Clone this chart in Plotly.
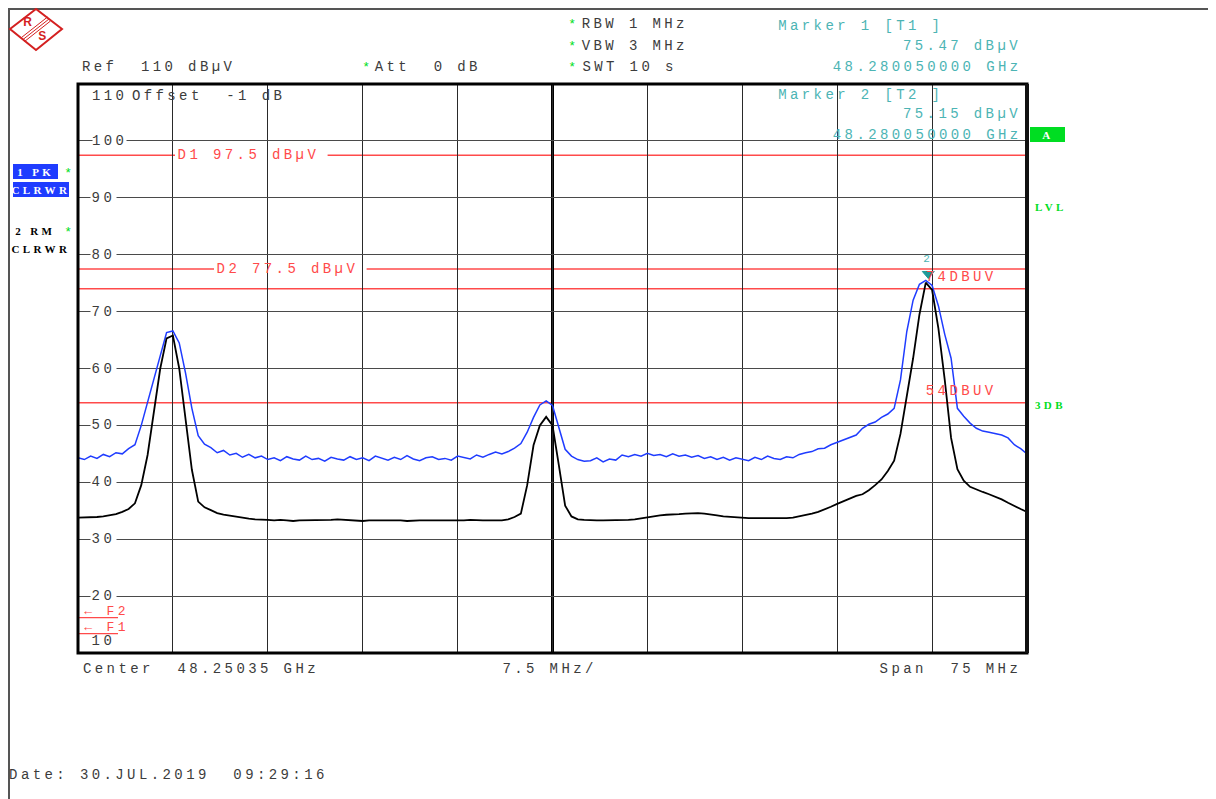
import re
import numpy as np
import plotly.graph_objects as go

# ---------------- data ----------------
CENTER_GHZ = 48.25035
SPAN_MHZ = 75.0
DIV_MHZ = 7.5
STEP_MHZ = 0.5
REF_DBUV = 110
BOTTOM_DBUV = 10

# trace 1 : PK / CLRWR (blue)
pk_dbuv = [
    44.3, 44.0, 44.6, 44.2, 44.9, 44.5, 45.2, 45.0, 45.9, 46.6,
    50.0, 54.0, 58.2, 62.5, 66.3, 66.6, 64.5, 59.2, 53.0, 48.2,
    46.7, 46.1, 45.2, 45.6, 44.8, 45.1, 44.4, 44.9, 44.3, 44.6, 44.0,
    44.3, 43.8, 44.5, 44.1, 43.9, 44.6, 44.0, 44.2, 43.7, 44.4, 44.1, 43.9,
    44.5, 44.0, 44.3, 43.8, 44.6, 44.2, 43.9, 44.4, 44.0, 44.7, 44.1, 43.8,
    44.3, 44.5, 44.0, 44.2, 43.9, 44.6, 44.3, 44.1, 44.8, 44.4, 44.9, 45.3,
    45.0, 45.4, 46.0, 46.8, 48.8, 51.4, 53.6, 54.3, 53.5, 49.5, 45.8, 44.6, 44.0, 43.7,
    43.8, 44.3, 43.6, 44.1, 43.9, 44.8, 44.5, 44.9, 44.6, 45.1, 44.7, 44.9, 44.5, 45.0, 44.6,
    44.8, 44.4, 44.7, 44.2, 44.5, 44.0, 44.4, 43.9, 44.3, 44.1, 43.8, 44.4, 44.0, 44.6, 44.2,
    44.0, 44.5, 44.3, 44.9, 45.2,
    45.4, 45.9, 46.0, 46.6, 47.0, 47.4, 47.9,
    48.3, 49.5, 50.2, 50.6, 51.4, 52.0, 53.0,
    58.0, 66.5, 72.0, 74.8, 75.5, 74.6, 71.0, 66.0, 61.8, 53.0, 51.6,
    50.4, 49.5, 49.0, 48.8, 48.6, 48.3, 47.8, 46.6, 45.9, 45.0,
]

# trace 2 : RM / CLRWR (black)
rm_dbuv = [
    33.8, 33.8, 33.9, 33.9, 34.0, 34.2, 34.4, 34.8, 35.3, 36.3,
    39.5, 44.8, 52.3, 60.0, 65.3, 65.8, 60.0, 51.0, 42.2, 36.6,
    35.6, 35.1, 34.6, 34.3, 34.1, 33.9, 33.7, 33.6, 33.5, 33.5, 33.4,
    33.3, 33.4, 33.3, 33.2, 33.3, 33.3, 33.4, 33.3, 33.3, 33.4, 33.5, 33.4,
    33.3, 33.3, 33.2, 33.3, 33.3, 33.3, 33.4, 33.3, 33.3, 33.2, 33.3, 33.3,
    33.3, 33.3, 33.2, 33.3, 33.3, 33.3, 33.3, 33.4, 33.3, 33.3, 33.3, 33.3, 33.3,
    33.5, 33.9,
    34.5, 39.5, 46.5, 50.0, 51.5, 50.0, 43.0, 35.9, 34.0, 33.5,
    33.4,
    33.3, 33.3, 33.3, 33.3, 33.3, 33.4, 33.4, 33.5, 33.7, 33.9, 34.1,
    34.2, 34.3, 34.3, 34.4, 34.5, 34.6, 34.6, 34.5, 34.4, 34.2, 34.0,
    33.9, 33.8, 33.7, 33.7, 33.7, 33.7, 33.7, 33.6, 33.6, 33.7, 33.8,
    34.0, 34.2, 34.5, 34.8, 35.2, 35.7, 36.2, 36.7, 37.2, 37.6, 37.9,
    38.6, 39.5, 40.5, 42.0, 43.8, 48.5, 55.0, 61.8, 69.5, 75.1, 73.8,
    67.0, 58.0, 47.8, 42.3, 40.3, 39.2, 38.7, 38.3, 37.9, 37.5, 37.0,
    36.4, 35.8, 35.3, 34.8,
]

ytick_vals = [100, 90, 80, 70, 60, 50, 40, 30, 20]
d_line_names = ["D1", "D2"]
d_line_vals = [97.5, 77.5]
lim_line_vals = [74, 54]
lim_line_labels = ["74DBUV", "54DBUV"]
f_line_names = ["F2", "F1"]
f_line_vals = [16.2, 13.4]
marker_ghz = 48.280050000
marker_dbuv = [75.47, 75.15]

assert len(pk_dbuv) == len(rm_dbuv) == 151

f_start = CENTER_GHZ - SPAN_MHZ / 2000.0
f_end = CENTER_GHZ + SPAN_MHZ / 2000.0
freq = f_start + np.arange(len(pk_dbuv)) * STEP_MHZ / 1000.0

# ---------------- layout helpers ----------------
W, H = 1216, 799          # browser window
BODY = 8                  # default page margin of the html body
PL, PR, PT, PB = 78, 1027, 84, 653   # plot frame in window pixels
MONO = "Liberation Mono"
SERIF = "Liberation Serif"
FS = 14
LS = 3.4                  # letter spacing (px) applied to all texts
GRAY = "#3c3c3c"
TEAL = "#4cb4b4"
RED = "#ff4a4a"
GREEN = "#00dd22"
BLUE = "#1f3cff"


def px(x):
    return (x - PL) / (PR - PL)


def py(y):
    return (PB - y) / (PB - PT)


def vis_len(t):
    return len(re.sub(r"<[^>]+>", "", t))


def center_x(t, x, anchor, size=FS):
    adv = 0.6 * size + LS
    tw = vis_len(t) * adv
    if anchor == "left":
        return x + tw / 2
    if anchor == "right":
        return x + LS - tw / 2
    return x + LS / 2


annotations = []
shapes = []


def txt(t, x, y, color=GRAY, size=FS, anchor="left", family=MONO, **kw):
    annotations.append(dict(
        text=t, x=px(center_x(t, x, anchor, size)), y=py(y), xref="paper", yref="paper",
        xanchor="center", yanchor="middle", showarrow=False,
        font=dict(family=family, size=size, color=color), borderpad=0, **kw))


def pline(x0, y0, x1, y1, color, width, layer="above"):
    shapes.append(dict(type="line", xref="paper", yref="paper",
                       x0=px(x0), y0=py(y0), x1=px(x1), y1=py(y1),
                       line=dict(color=color, width=width), layer=layer))


fig = go.Figure()

fig.add_trace(go.Scatter(x=freq, y=pk_dbuv, mode="lines",
                         line=dict(color=BLUE, width=1.5), name="1 PK"))
fig.add_trace(go.Scatter(x=freq, y=rm_dbuv, mode="lines",
                         line=dict(color="black", width=1.8), name="2 RM"))

# ---------- page border ----------
pline(8, 9, W, 9, "#555555", 2)
pline(9, 8, 9, H, "#555555", 2)

# ---------- R&S logo ----------
logo = (f"M {px(10)},{py(29)} L {px(36)},{py(9)} L {px(62)},{py(29)} "
        f"L {px(36)},{py(50)} Z")
shapes.append(dict(type="path", xref="paper", yref="paper", path=logo,
                   line=dict(color="#d42020", width=2)))
for off in (-2.5, 0, 2.5):
    pline(23 + off * 0.6, 39.5 + off * 0.8, 49 + off * 0.6, 19 + off * 0.8, "#d42020", 1)
txt("<b>R</b>", 28, 22, color="#d42020", size=12, anchor="center", family="Liberation Sans")
txt("<b>S</b>", 42, 36, color="#d42020", size=12, anchor="center", family="Liberation Sans")

# ---------- header texts ----------
txt("Ref  110 dBµV", 82, 67)
txt("*", 366, 68, color=GREEN, size=13, anchor="center")
txt("Att  0 dB", 375, 67)
for s, yy in zip(["RBW 1 MHz", "VBW 3 MHz", "SWT 10 s"], [24, 46, 67]):
    txt("*", 572, yy + 1, color=GREEN, size=13, anchor="center")
    txt(s, 582, yy)
txt("Marker 1 [T1 ]", 778, 26, color=TEAL)
txt(f"{marker_dbuv[0]:.2f} dBµV", 1018, 46, color=TEAL, anchor="right")
txt(f"{marker_ghz:.9f} GHz", 1018, 67, color=TEAL, anchor="right")
txt("Marker 2 [T2 ]", 778, 95, color=TEAL)
txt(f"{marker_dbuv[1]:.2f} dBµV", 1018, 114, color=TEAL, anchor="right")
txt(f"{marker_ghz:.9f} GHz", 1018, 135, color=TEAL, anchor="right")
txt("Offset  -1 dB", 132, 96)

# ---------- left trace labels ----------
shapes.append(dict(type="rect", xref="paper", yref="paper", x0=px(13), x1=px(58),
                   y0=py(179), y1=py(164), fillcolor=BLUE, line=dict(width=0)))
shapes.append(dict(type="rect", xref="paper", yref="paper", x0=px(13), x1=px(69),
                   y0=py(197), y1=py(182), fillcolor=BLUE, line=dict(width=0)))
txt("<b>1 PK</b>", 34, 172, color="white", size=11, anchor="center", family=SERIF)
txt("*", 68, 173, color=GREEN, size=13, anchor="center")
txt("<b>CLRWR</b>", 40, 190, color="white", size=11, anchor="center", family=SERIF)
txt("<b>2 RM</b>", 34, 231, color="black", size=11, anchor="center", family=SERIF)
txt("*", 68, 232, color=GREEN, size=13, anchor="center")
txt("<b>CLRWR</b>", 40, 249, color="black", size=11, anchor="center", family=SERIF)

# ---------- right side labels ----------
shapes.append(dict(type="rect", xref="paper", yref="paper", x0=px(1030), x1=px(1065),
                   y0=py(142), y1=py(127), fillcolor=GREEN, line=dict(width=0)))
txt("<b>A</b>", 1046, 135, color="white", size=11, anchor="center", family=SERIF)
txt("<b>LVL</b>", 1049, 207, color=GREEN, size=11, anchor="center", family=SERIF)
txt("<b>3DB</b>", 1049, 405, color=GREEN, size=11, anchor="center", family=SERIF)

# ---------- bottom texts ----------
txt("Center  48.25035 GHz", 83, 669)
txt(f"{DIV_MHZ} MHz/", 502, 669)
txt(f"Span  {SPAN_MHZ:.0f} MHz", 1018, 669, anchor="right")
txt("Date: 30.JUL.2019  09:29:16", 9, 775)

# ---------- y tick labels ----------
TICK_X = 92
for v in ytick_vals:
    annotations.append(dict(text=str(v), x=px(center_x(str(v), TICK_X, "left")), y=v,
                            xref="paper", yref="y", xanchor="center", yanchor="middle",
                            showarrow=False, bgcolor="white", borderpad=4,
                            font=dict(family=MONO, size=FS, color=GRAY)))
for v, sh in ((REF_DBUV, -12), (BOTTOM_DBUV, 12)):
    annotations.append(dict(text=str(v), x=px(center_x(str(v), TICK_X, "left")), y=v,
                            xref="paper", yref="y", xanchor="center", yanchor="middle",
                            yshift=sh, showarrow=False,
                            font=dict(family=MONO, size=FS, color=GRAY)))

# ---------- display lines D1 / D2 with inline labels ----------
ADV = 0.6 * FS + LS
label_x = [178, 217]
for name, val, lx in zip(d_line_names, d_line_vals, label_x):
    lab = f"{name} {val} dBµV"
    x_end = lx + vis_len(lab) * ADV + 8
    shapes.append(dict(type="line", xref="paper", yref="y", x0=0, x1=px(lx - 3),
                       y0=val, y1=val, line=dict(color=RED, width=1.5), layer="between"))
    shapes.append(dict(type="line", xref="paper", yref="y", x0=px(x_end), x1=1,
                       y0=val, y1=val, line=dict(color=RED, width=1.5), layer="between"))
    annotations.append(dict(text=lab, x=px(center_x(lab, lx, "left")), y=val,
                            xref="paper", yref="y", xanchor="center", yanchor="middle",
                            showarrow=False, font=dict(family=MONO, size=FS, color=RED)))

# ---------- limit lines 74 / 54 ----------
for val, lab in zip(lim_line_vals, lim_line_labels):
    shapes.append(dict(type="line", xref="paper", yref="y", x0=0, x1=1,
                       y0=val, y1=val, line=dict(color=RED, width=1.5), layer="between"))
    annotations.append(dict(text=lab, x=px(center_x(lab, 926, "left")), y=val,
                            xref="paper", yref="y", xanchor="center", yanchor="bottom",
                            yshift=2, showarrow=False,
                            font=dict(family=MONO, size=FS, color=RED)))

# ---------- frequency line markers F1 / F2 ----------
for name, val in zip(f_line_names, f_line_vals):
    shapes.append(dict(type="line", xref="paper", yref="y", x0=0, x1=px(118),
                       y0=val, y1=val, line=dict(color=RED, width=1.2)))
    lab = f"← {name}"
    annotations.append(dict(text=lab, x=px(center_x(lab, 84, "left", 13)), y=val,
                            xref="paper", yref="y", xanchor="center", yanchor="middle",
                            yshift=6, showarrow=False,
                            font=dict(family=MONO, size=13, color=RED)))

# ---------- center line & frame ----------
shapes.append(dict(type="line", xref="x", yref="paper", x0=CENTER_GHZ, x1=CENTER_GHZ,
                   y0=0, y1=1, line=dict(color="black", width=3), layer="between"))
shapes.append(dict(type="rect", xref="paper", yref="paper", x0=0, x1=1, y0=0, y1=1,
                   line=dict(color="black", width=3)))
shapes.append(dict(type="line", xref="paper", yref="paper", x0=1, x1=1, y0=0, y1=1,
                   line=dict(color="#111111", width=4)))

# ---------- marker (triangle drawn in pixel units above the trace) ----------
shapes.append(dict(type="path", xref="x", yref="y", xsizemode="pixel", ysizemode="pixel",
                   xanchor=marker_ghz, yanchor=marker_dbuv[0],
                   path="M -6,9 L 6,9 L 0,2 Z",
                   fillcolor="#1e9a9a", line=dict(color="#1e9a9a", width=1)))
annotations.append(dict(text="2", x=marker_ghz, y=marker_dbuv[0], xref="x", yref="y",
                        xanchor="center", yanchor="bottom", yshift=13, showarrow=False,
                        font=dict(family=MONO, size=11, color=TEAL)))

fig.update_layout(
    width=W - BODY, height=H - BODY,
    margin=dict(l=PL - BODY, r=W - PR, t=PT - BODY, b=H - PB, pad=0),
    paper_bgcolor="white", plot_bgcolor="white",
    showlegend=False,
    xaxis=dict(range=[f_start, f_end], tick0=f_start, dtick=DIV_MHZ / 1000.0,
               showticklabels=False, ticks="", showgrid=True, gridcolor="#2a2a2a",
               gridwidth=1.4, zeroline=False, showline=False),
    yaxis=dict(range=[BOTTOM_DBUV, REF_DBUV], tick0=BOTTOM_DBUV, dtick=10,
               showticklabels=False, ticks="", showgrid=True, gridcolor="#4a4a4a",
               gridwidth=1.4, zeroline=False, showline=False),
    annotations=annotations,
    shapes=shapes,
)

post = ("var s=document.createElement('style');"
        f"s.textContent='.annotation-text{{letter-spacing:{LS}px;}}';"
        "document.head.appendChild(s);")
fig.write_html("out.html", post_script=post)
